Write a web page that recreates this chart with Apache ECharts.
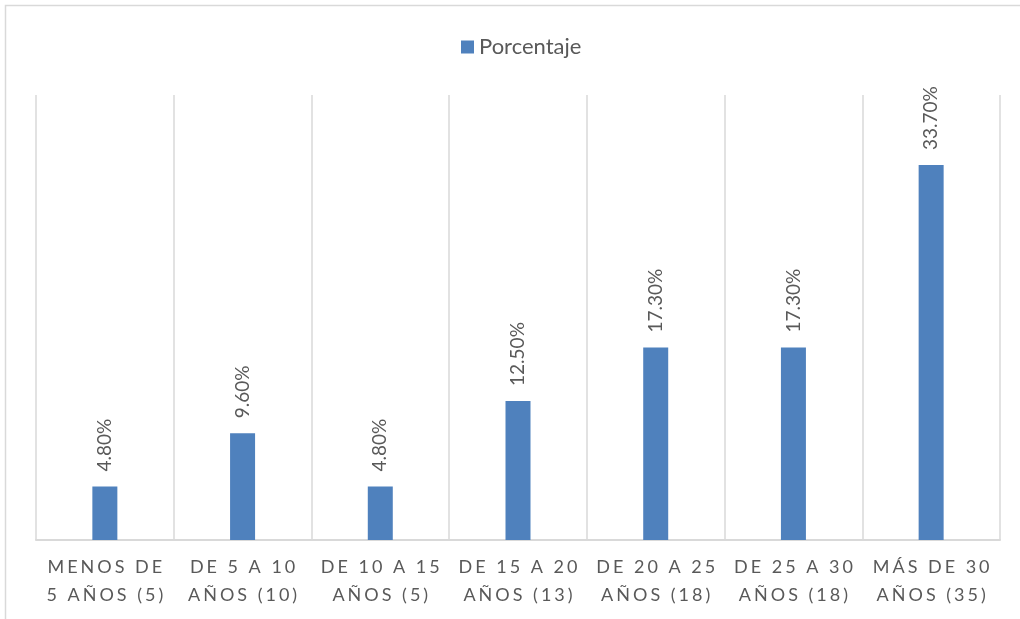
<!DOCTYPE html>
<html>
<head>
<meta charset="utf-8">
<title>Porcentaje por antigüedad</title>
<script src="https://cdn.jsdelivr.net/npm/echarts@6/dist/echarts.min.js"></script>
<style>
  html, body { margin: 0; padding: 0; background: #ffffff; }
  #chart { width: 1020px; height: 619px; }
</style>
</head>
<body>
<div id="chart"></div>
<script>
// Categories (two-line labels) and their percentages
const categories = [
  'MENOS DE\n5 AÑOS (5)',
  'DE 5 A 10\nAÑOS (10)',
  'DE 10 A 15\nAÑOS (5)',
  'DE 15 A 20\nAÑOS (13)',
  'DE 20 A 25\nAÑOS (18)',
  'DE 25 A 30\nAÑOS (18)',
  'MÁS DE 30\nAÑOS (35)'
];
const porcentaje = [4.8, 9.6, 4.8, 12.5, 17.3, 17.3, 33.7];
const seriesName = 'Porcentaje';

// Spread letters apart (tracked caps for the category labels)
const LETTER_GAP = '\u2006';
function track(text) {
  return text.split('\n').map(line =>
    line.split(' ').map(w => Array.from(w).join(LETTER_GAP)).join(LETTER_GAP + ' ' + LETTER_GAP)
  ).join('\n');
}

const textGray = '#595959';
const gridGray = '#D9D9D9';
const barBlue = '#4F81BD';
const fontFamily = 'Lato, "Open Sans", sans-serif';

const chart = echarts.init(document.getElementById('chart'));
chart.setOption({
  animation: false,
  backgroundColor: '#ffffff',
  graphic: [{
    type: 'rect',
    shape: { x: 5.5, y: 5.5, width: 1100, height: 700 },
    style: { fill: 'none', stroke: gridGray, lineWidth: 1.5 },
    silent: true
  }],
  legend: {
    top: 31,
    left: 456,
    itemWidth: 13,
    itemHeight: 13,
    itemGap: 6,
    icon: 'rect',
    textStyle: { color: textGray, fontSize: 22, fontFamily: fontFamily },
    data: [seriesName]
  },
  grid: { left: 36, right: 20, top: 95, bottom: 79, containLabel: false },
  xAxis: {
    type: 'category',
    data: categories,
    boundaryGap: true,
    axisLine: { show: true, lineStyle: { color: gridGray, width: 2 } },
    axisTick: { show: false },
    splitLine: { show: true, lineStyle: { color: gridGray, width: 1.5 } },
    axisLabel: {
      interval: 0,
      margin: 13,
      color: textGray,
      fontSize: 18,
      lineHeight: 28,
      fontFamily: fontFamily,
      formatter: v => track(v)
    }
  },
  yAxis: {
    type: 'value',
    min: 0,
    max: 40,
    show: false,
    splitLine: { show: false }
  },
  series: [{
    name: seriesName,
    type: 'bar',
    data: porcentaje,
    barWidth: 25,
    itemStyle: { color: barBlue },
    label: {
      show: true,
      position: 'top',
      rotate: 90,
      align: 'left',
      verticalAlign: 'middle',
      distance: 15,
      color: textGray,
      fontSize: 19,
      fontFamily: fontFamily,
      formatter: p => p.value.toFixed(2) + '%'
    }
  }]
});
</script>
</body>
</html>
